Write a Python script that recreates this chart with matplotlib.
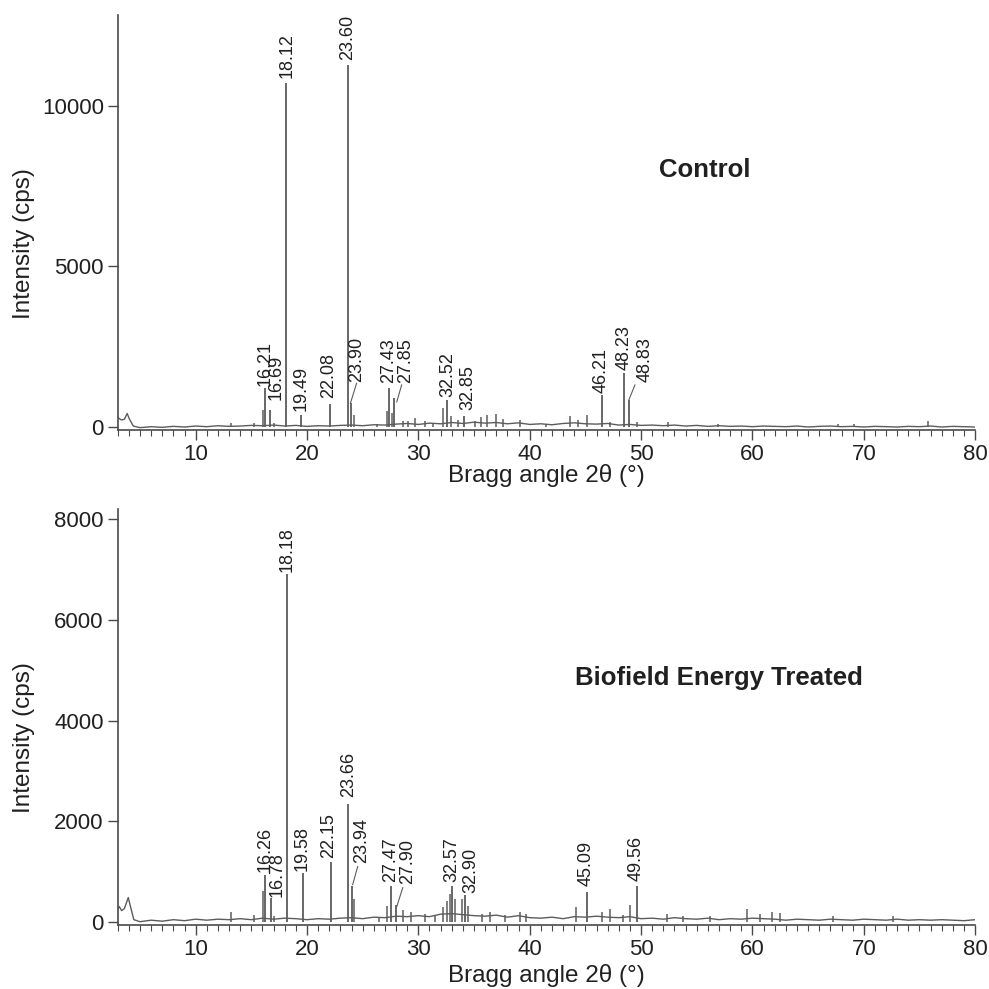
import matplotlib
matplotlib.use("Agg")
import matplotlib.pyplot as plt
from matplotlib.ticker import MultipleLocator

plt.rcParams["font.family"] = ["Liberation Sans", "DejaVu Sans"]

TRACE = "#5c5c5c"
INK = "#202020"
SPINE = "#4a4a4a"

# ---- Control: baseline trace, labelled peaks, small unlabelled peaks ----
ctrl_base_x = [3.0, 3.15, 3.35, 3.6, 3.85, 4.05, 4.4, 5, 6, 7, 8, 9, 10, 11, 12, 13,
               14, 15, 16, 17, 18, 19, 20, 21, 22, 23, 24, 25, 26, 27, 28, 29, 30,
               31, 32, 33, 34, 35, 36, 37, 38, 39, 40, 41, 42, 43, 44, 45, 46, 47,
               48, 49, 50, 51, 52, 53, 54, 55, 56, 57, 58, 59, 60, 61, 62, 63, 64,
               65, 66, 67, 68, 69, 70, 71, 72, 73, 74, 75, 76, 77, 78, 79, 80]
ctrl_base_y = [300, 260, 220, 240, 420, 250, 30, -20, 10, -10, 20, 0, 30, 10, 40, 20,
               30, 50, 40, 60, 30, 50, 20, 40, 30, 50, 60, 40, 70, 60, 90, 110, 80,
               120, 100, 140, 110, 150, 120, 140, 100, 130, 80, 100, 70, 110, 130, 100, 90, 110,
               60, 80, 50, 60, 40, 60, 30, 50, 20, 40, 20, 30, 10, 30, 20, 10, 30,
               0, 20, 30, 10, 20, 0, 20, 10, 0, 20, 10, 30, 0, 20, 10, 0]
ctrl_lab_text = ["16.21", "16.69", "18.12", "19.49", "22.08", "23.60", "23.90",
                 "27.43", "27.85", "32.52", "32.85", "46.21", "48.23", "48.83"]
ctrl_lab_x = [16.2, 16.65, 18.15, 19.5, 22.1, 23.65, 23.95,
              27.4, 27.85, 32.6, 34.1, 46.5, 48.45, 48.9]
ctrl_lab_h = [1215, 530, 10716, 370, 720, 11277, 750,
              1215, 900, 840, 340, 1000, 1680, 840]
ctrl_minor_x = [13.2, 15.2, 16.05, 17.0, 24.2, 26.3, 27.15, 27.6, 28.6, 29.1, 29.7,
                30.6, 31.3, 32.25, 32.95, 33.6, 35.1, 35.6, 36.2, 37.0, 37.6, 39.1,
                41.5, 43.6, 44.3, 45.1, 47.2, 49.6, 52.4, 56.9, 67.7, 69.1, 75.8]
ctrl_minor_h = [130, 120, 520, 120, 380, 100, 500, 450, 200, 180, 280,
                180, 120, 590, 350, 220, 180, 300, 370, 400, 250, 220,
                100, 340, 220, 370, 160, 170, 160, 80, 100, 80, 200]

# ---- Biofield Energy Treated ----
trt_base_x = [3.0, 3.15, 3.35, 3.6, 3.95, 4.15, 4.45, 5, 6, 7, 8, 9, 10, 11, 12, 13,
              14, 15, 16, 17, 18, 19, 20, 21, 22, 23, 24, 25, 26, 27, 28, 29, 30,
              31, 32, 33, 34, 35, 36, 37, 38, 39, 40, 41, 42, 43, 44, 45, 46, 47,
              48, 49, 50, 51, 52, 53, 54, 55, 56, 57, 58, 59, 60, 61, 62, 63, 64,
              65, 66, 67, 68, 69, 70, 71, 72, 73, 74, 75, 76, 77, 78, 79, 80]
trt_base_y = [250, 300, 220, 260, 480, 300, 40, 0, 30, 10, 40, 20, 50, 30, 50, 40,
              60, 40, 70, 50, 70, 60, 40, 60, 50, 70, 80, 60, 90, 80, 110, 100, 120,
              100, 150, 160, 140, 120, 110, 130, 90, 120, 80, 70, 90, 60, 100, 90, 110, 90,
              80, 100, 60, 70, 50, 80, 60, 50, 70, 40, 60, 50, 70, 60, 50, 30, 50,
              40, 30, 50, 40, 30, 50, 40, 30, 50, 30, 40, 30, 40, 30, 20, 40]
trt_lab_text = ["16.26", "16.78", "18.18", "19.58", "22.15", "23.66", "23.94",
                "27.47", "27.90", "32.57", "32.90", "45.09", "49.56"]
trt_lab_x = [16.25, 16.8, 18.2, 19.6, 22.2, 23.7, 24.0,
             27.5, 27.95, 33.0, 34.2, 45.1, 49.6]
trt_lab_h = [935, 480, 6905, 975, 1190, 2350, 700,
             700, 340, 700, 540, 600, 700]
trt_minor_x = [13.2, 15.2, 16.05, 17.0, 24.2, 26.5, 27.2, 28.6, 29.3, 30.6, 31.5,
               32.2, 32.6, 32.8, 33.3, 33.9, 34.5, 35.7, 36.4, 37.8, 39.1, 39.7,
               44.2, 46.5, 47.2, 48.4, 49.0, 52.3, 53.8, 56.2, 59.5, 60.7, 61.8,
               62.5, 67.2, 72.6]
trt_minor_h = [200, 130, 620, 120, 450, 90, 320, 230, 190, 160, 110,
               300, 420, 560, 460, 460, 320, 150, 200, 130, 200, 150,
               300, 200, 250, 140, 340, 160, 110, 110, 250, 150, 200,
               180, 110, 110]

# label placement (layout only): text bottom-centre, optional leader line
ctrl_txt = [(16.25, 1290), (17.2, 840), (18.2, 10870), (19.5, 500), (21.95, 900),
            (23.65, 11420), (24.5, 1400), (27.3, 1370), (28.9, 1370), (32.65, 935),
            (34.45, 530), (46.4, 1060), (48.45, 1780), (50.4, 1400)]
ctrl_leaders = {6: (24.45, 1360, 23.9, 740), 8: (28.5, 1310, 28.06, 780),
                13: (49.45, 1310, 48.9, 840)}
trt_txt = [(16.2, 995), (17.3, 490), (18.2, 6960), (19.6, 1000), (21.95, 1270),
           (23.7, 2470), (24.9, 1170), (27.5, 780), (29.0, 740), (33.0, 780),
           (34.7, 580), (45.1, 700), (49.6, 800)]
trt_leaders = {6: (24.55, 1095, 24.1, 736), 8: (28.6, 677, 28.06, 300)}


def panel(ax, bx, by, lab_x, lab_h, lab_text, mx, mh, txt, leaders,
          ylim, yticks, title, title_xy, xlab_y):
    ax.plot(bx, by, color=TRACE, lw=1.0)
    ax.vlines(mx, 0, mh, color=TRACE, lw=1.1)
    ax.vlines(lab_x, 0, lab_h, color=TRACE, lw=1.3)
    for i, s in enumerate(lab_text):
        tx, ty = txt[i]
        ax.text(tx, ty, s, rotation=90, ha="center", va="bottom",
                fontsize=13, color=INK)
    for x0, y0, x1, y1 in leaders.values():
        ax.plot([x0, x1], [y0, y1], color=TRACE, lw=0.8)
    ax.set_xlim(3, 80)
    ax.set_ylim(*ylim)
    ax.set_yticks(yticks)
    ax.xaxis.set_major_locator(MultipleLocator(10))
    ax.xaxis.set_minor_locator(MultipleLocator(1))
    ax.spines[["top", "right"]].set_visible(False)
    for sp in ("left", "bottom"):
        ax.spines[sp].set_color(SPINE)
        ax.spines[sp].set_linewidth(1.2)
    ax.tick_params(axis="both", which="major", direction="out", length=7,
                   width=1.0, color=SPINE, labelsize=16, labelcolor=INK, pad=3)
    ax.tick_params(axis="x", which="minor", direction="out", length=4,
                   width=0.8, color=SPINE)
    ax.set_xlabel("Bragg angle 2θ (°)", fontsize=17.5, color=INK)
    ax.set_ylabel("Intensity (cps)", fontsize=17.5, color=INK)
    ax.xaxis.set_label_coords(0.5, xlab_y)
    ax.yaxis.set_label_coords(-0.096, 0.45)
    ax.text(*title_xy, title, transform=ax.transAxes, ha="center", va="center",
            fontsize=18.5, fontweight="bold", color=INK)


fig = plt.figure(figsize=(9.89, 9.89), dpi=100)
ax1 = fig.add_axes([0.119, 0.565, 0.867, 0.42])
ax2 = fig.add_axes([0.119, 0.065, 0.867, 0.42])

panel(ax1, ctrl_base_x, ctrl_base_y, ctrl_lab_x, ctrl_lab_h, ctrl_lab_text,
      ctrl_minor_x, ctrl_minor_h, ctrl_txt, ctrl_leaders,
      (-100, 12830), [0, 5000, 10000], "Control", (0.685, 0.627), -0.082)
panel(ax2, trt_base_x, trt_base_y, trt_lab_x, trt_lab_h, trt_lab_text,
      trt_minor_x, trt_minor_h, trt_txt, trt_leaders,
      (-60, 8200), [0, 2000, 4000, 6000, 8000], "Biofield Energy Treated",
      (0.701, 0.595), -0.094)

fig.savefig("out.png", dpi=100)
